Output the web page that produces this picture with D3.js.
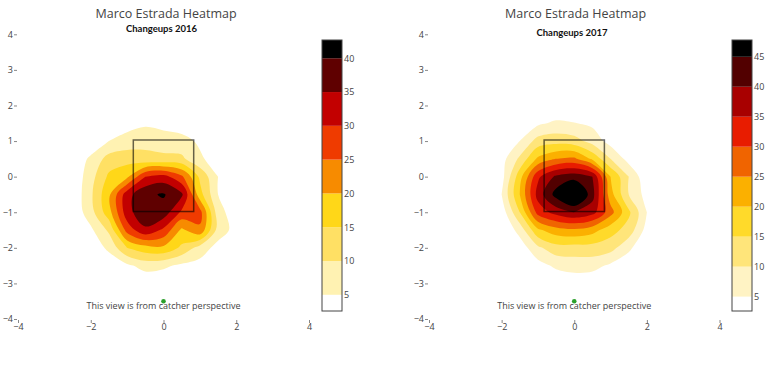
<!DOCTYPE html>
<html>
<head>
<meta charset="utf-8">
<title>Marco Estrada Heatmap</title>
<script src="https://d3js.org/d3.v7.min.js"></script>
<style>
  body { margin: 0; background: #fff; }
  svg text { font-family: "Open Sans", sans-serif; fill: #444; }
  .sub { font-family: Lato, sans-serif; font-weight: bold; fill: #111; }
</style>
</head>
<body>
<svg id="chart" width="771" height="372"></svg>
<script>
// grid nodes (feet), columns left -> right, rows top -> bottom
const gridX = [-2.5, -2, -1.5, -1, -0.5, 0, 0.5, 1, 1.5, 2, 2.5];
const gridY = [2, 1.5, 1, 0.5, 0, -0.5, -1, -1.5, -2, -2.5, -3];

const density2016 = [
  [0, 0, 0, 0, 0, 0, 0, 0, 0, 0, 0],
  [0, 0, 1, 3, 4, 3, 2, 1, 0, 0, 0],
  [0, 1, 5, 7, 9, 8, 7, 4, 1, 0, 0],
  [1, 6, 12, 13, 11, 11, 11, 6, 2, 0, 0],
  [1, 8, 16, 19, 30, 32, 26, 14, 5, 1, 0],
  [1, 9, 19, 33, 39, 40.5, 36, 17, 5, 1, 0],
  [1, 8, 18, 33, 39, 38, 29, 27, 7, 2, 0],
  [1, 4, 11, 27, 34, 29, 19, 24, 8, 3, 0],
  [0, 2, 6, 15, 18, 19, 14, 8, 3, 1, 0],
  [0, 0, 2, 4, 7, 6, 4, 3, 1, 0, 0],
  [0, 0, 0, 0, 1, 1, 0, 0, 0, 0, 0]
];

const density2017 = [
  [0, 0, 0, 0, 0, 0, 0, 0, 0, 0, 0],
  [0, 0, 1, 4, 6, 5.2, 4, 1, 0, 0, 0],
  [0, 0, 5, 12, 13, 12, 8, 3, 1, 0, 0],
  [0, 3, 11, 21, 25, 26, 19, 10, 3, 0, 0],
  [0, 3, 18, 34, 41, 43, 40, 20, 10, 1, 0],
  [0, 5, 20, 37, 47, 54, 42, 22, 10, 3, 0],
  [0, 2, 15, 32, 37, 40, 37, 27, 16, 5, 0],
  [0, 0, 7, 19, 23, 24, 22, 17, 13, 3, 0],
  [0, 0, 2, 9, 13, 13, 13, 12, 6, 1, 0],
  [0, 0, 0, 3, 6, 7, 7, 4, 2, 0, 0],
  [0, 0, 0, 0, 1, 2, 1, 1, 0, 0, 0]
];

const levels2016 = [5, 10, 15, 20, 25, 30, 35, 40];
const levels2017 = [5, 10, 15, 20, 25, 30, 35, 40, 45];
const colors2016 = ["#ffffff", "#fff2b2", "#ffe064", "#ffd718", "#f78b00", "#ef3b00", "#c20000", "#5f0000", "#000000"];
const colors2017 = ["#ffffff", "#fff3c4", "#ffe57a", "#ffda2a", "#fbb000", "#f06400", "#e81c00", "#a80000", "#520000", "#000000"];
const cbarRange2016 = [2.6, 42.7];
const cbarRange2017 = [2.6, 47.8];

const axisTicks = [-4, -3, -2, -1, 0, 1, 2, 3, 4];
const xTicks = [-4, -2, 0, 2, 4];
const strikeZoneX = [-0.83, 0.83];
const strikeZoneY = [-0.98, 1.03];
const plateDot = [0, -3.5];

var svg = d3.select("#chart");

var y = d3.scaleLinear().domain([-4, 4]).range([319, 34.3]);

function drawPanel(p) {
  var g = svg.append("g");
  var x = d3.scaleLinear().domain([-4, 4]).range(p.xRange);

  // contour bands
  var nx = gridX.length, ny = gridY.length;
  var step = gridX[1] - gridX[0];
  var bands = d3.contours().size([nx, ny]).thresholds(p.levels)(p.grid.flat());
  var ring = d3.line()
      .x(function(d) { return x(gridX[0] + (d[0] - 0.5) * step); })
      .y(function(d) { return y(gridY[0] - (d[1] - 0.5) * step); })
      .curve(d3.curveCatmullRomClosed.alpha(0.5));

  g.append("g").selectAll("path")
    .data(bands)
    .join("path")
      .attr("fill", function(d, i) { return p.colors[i + 1]; })
      .attr("fill-rule", "evenodd")
      .attr("d", function(d) {
        return d.coordinates.map(function(poly) {
          return poly.map(function(r) { return ring(r.slice(0, -1)); }).join("");
        }).join("");
      });

  // strike zone
  g.append("rect")
      .attr("x", x(strikeZoneX[0]))
      .attr("y", y(strikeZoneY[1]))
      .attr("width", x(strikeZoneX[1]) - x(strikeZoneX[0]))
      .attr("height", y(strikeZoneY[0]) - y(strikeZoneY[1]))
      .attr("fill", "none")
      .attr("stroke", "#000")
      .attr("stroke-opacity", 0.6)
      .attr("stroke-width", 1.5);

  // axes
  var ya = g.append("g")
      .attr("transform", "translate(" + (p.xRange[0] - 1) + ",0)")
      .call(d3.axisLeft(y).tickValues(axisTicks).tickSize(3).tickPadding(1));
  var xa = g.append("g")
      .attr("transform", "translate(0," + (y(-4) + 1) + ")")
      .call(d3.axisBottom(x).tickValues(xTicks).tickSize(3).tickPadding(1));
  [ya, xa].forEach(function(a) {
    a.select(".domain").remove();
    a.selectAll("line").attr("stroke", "#888");
    a.selectAll("text").attr("fill", "#444").style("font-size", "9px");
  });

  // titles
  g.append("text")
      .attr("x", p.titleX).attr("y", 18)
      .attr("text-anchor", "middle")
      .style("font-size", "12.5px")
      .text("Marco Estrada Heatmap");
  g.append("text")
      .attr("class", "sub")
      .attr("x", p.subX).attr("y", p.subY)
      .attr("text-anchor", "middle")
      .style("font-size", "9.5px")
      .text(p.subtitle);

  // plate marker and note
  g.append("circle")
      .attr("cx", x(plateDot[0])).attr("cy", y(plateDot[1]))
      .attr("r", 2.3)
      .attr("fill", "#2ca02c");
  g.append("text")
      .attr("x", x(0)).attr("y", 309)
      .attr("text-anchor", "middle")
      .style("font-size", "9px")
      .text("This view is from catcher perspective");

  // colorbar
  var cy = d3.scaleLinear().domain(p.cbar).range([311, 40]);
  var cb = g.append("g").attr("transform", "translate(" + p.cbarX + ",0)");
  var edges = [p.cbar[0]].concat(p.levels, [p.cbar[1]]);
  cb.selectAll("rect.band")
    .data(p.colors)
    .join("rect")
      .attr("class", "band")
      .attr("x", 0)
      .attr("width", 20)
      .attr("y", function(d, i) { return cy(edges[i + 1]); })
      .attr("height", function(d, i) { return cy(edges[i]) - cy(edges[i + 1]); })
      .attr("fill", function(d) { return d; });
  cb.append("rect")
      .attr("x", 0).attr("y", 40)
      .attr("width", 20).attr("height", 271)
      .attr("fill", "none")
      .attr("stroke", "#444")
      .attr("stroke-width", 1);
  var ca = cb.append("g")
      .attr("transform", "translate(20,0)")
      .call(d3.axisRight(cy).tickValues(p.levels).tickSize(0).tickPadding(2));
  ca.select(".domain").remove();
  ca.selectAll("text").attr("fill", "#444").style("font-size", "9px");
}

drawPanel({
  grid: density2016, levels: levels2016, colors: colors2016, cbar: cbarRange2016,
  xRange: [18, 309], titleX: 166, subX: 161.5, subY: 32, subtitle: "Changeups 2016", cbarX: 322
});
drawPanel({
  grid: density2017, levels: levels2017, colors: colors2017, cbar: cbarRange2017,
  xRange: [429, 719.5], titleX: 575.5, subX: 572, subY: 36, subtitle: "Changeups 2017", cbarX: 732
});
</script>
</body>
</html>
